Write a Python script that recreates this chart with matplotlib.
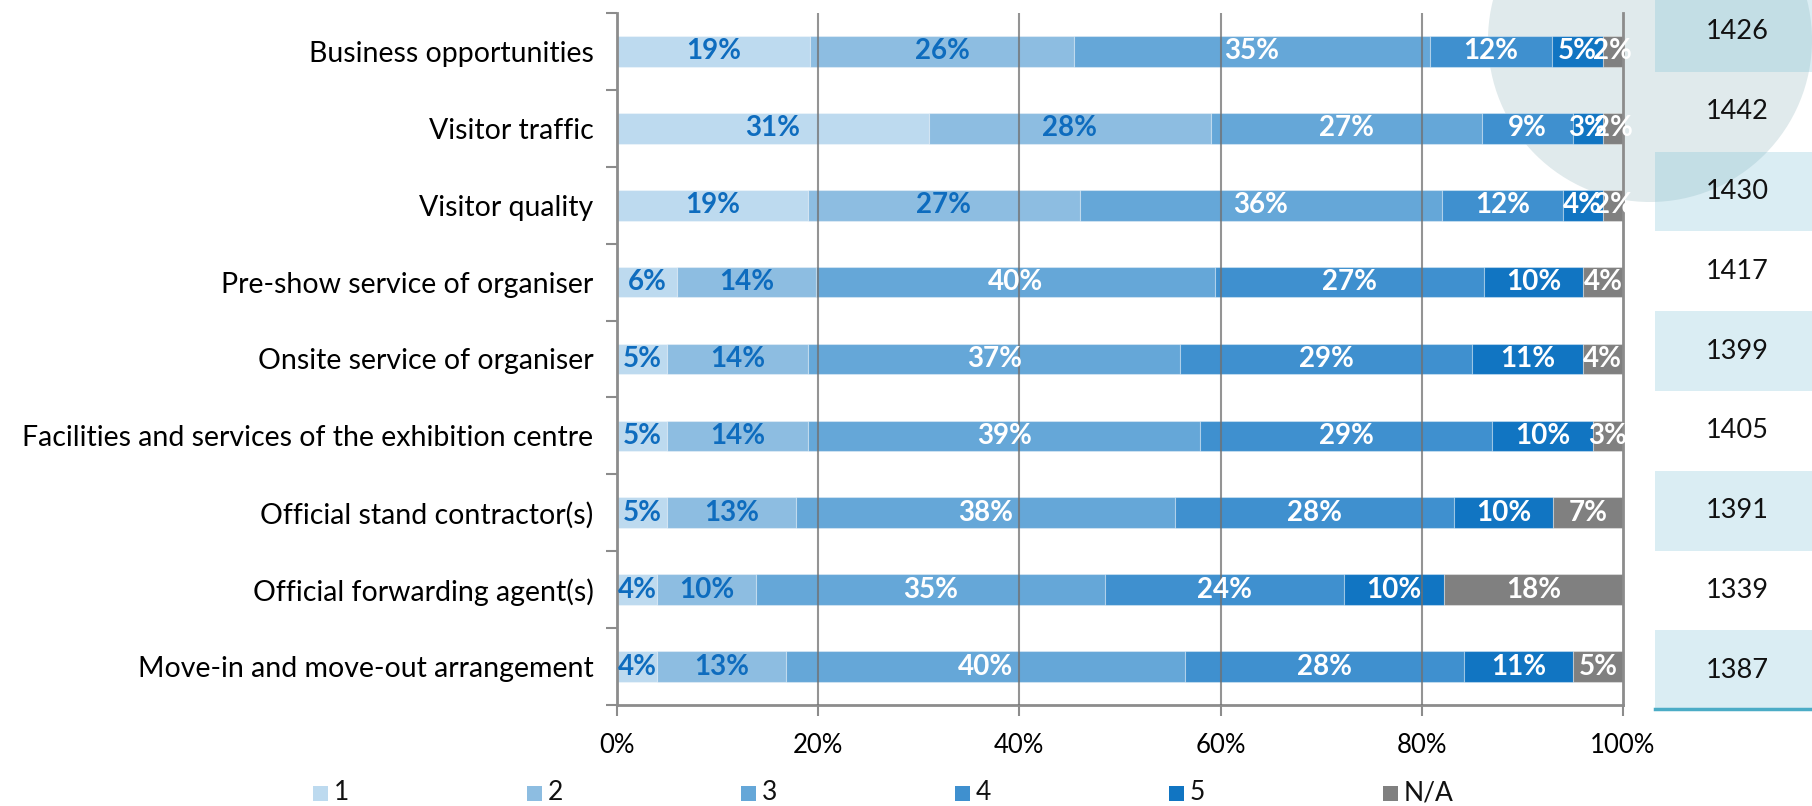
import matplotlib
matplotlib.use("Agg")
import matplotlib.pyplot as plt
from matplotlib.patches import Rectangle, Ellipse
import numpy as np

plt.rcParams['font.family'] = ['Lato', 'DejaVu Sans']

categories = [
    "Business opportunities",
    "Visitor traffic",
    "Visitor quality",
    "Pre-show service of organiser",
    "Onsite service of organiser",
    "Facilities and services of the exhibition centre",
    "Official stand contractor(s)",
    "Official forwarding agent(s)",
    "Move-in and move-out arrangement",
]
series_names = ["1", "2", "3", "4", "5", "N/A"]
s1 = [19, 31, 19, 6, 5, 5, 5, 4, 4]
s2 = [26, 28, 27, 14, 14, 14, 13, 10, 13]
s3 = [35, 27, 36, 40, 37, 39, 38, 35, 40]
s4 = [12, 9, 12, 27, 29, 29, 28, 24, 28]
s5 = [5, 3, 4, 10, 11, 10, 10, 10, 11]
s_na = [2, 2, 2, 4, 4, 3, 7, 18, 5]
n_responses = [1426, 1442, 1430, 1417, 1399, 1405, 1391, 1339, 1387]
x_ticks = [0, 20, 40, 60, 80, 100]
x_tick_labels = ["0%", "20%", "40%", "60%", "80%", "100%"]

colors = ["#BDDAEF", "#8DBDE1", "#65A7D8", "#3F90CF", "#1175C2", "#808080"]
label_colors = ["#0E6CBE", "#0E6CBE", "white", "white", "white", "white"]

W, H = 1812, 806
fig = plt.figure(figsize=(W / 100, H / 100), dpi=100)

# Decorative background circle
circ = Ellipse((1650 / W, 1 - 40 / H), width=2 * 162 / W, height=2 * 162 / H,
               transform=fig.transFigure, facecolor="#E0EAEC",
               edgecolor="none", zorder=0.05)
fig.patches.append(circ)

ax = fig.add_axes([617 / W, 101 / H, 1006 / W, 692 / H])
ax.set_zorder(2)
ax.patch.set_visible(False)

n = len(categories)
y = np.arange(n)
data = np.array([s1, s2, s3, s4, s5, s_na], dtype=float)
totals = data.sum(axis=0)
shares = data / totals * 100

left = np.zeros(n)
for k in range(len(series_names)):
    ax.barh(y, shares[k], left=left, height=0.40, color=colors[k],
            edgecolor=(1, 1, 1, 0.35), linewidth=0.8, label=series_names[k], zorder=2)
    for i in range(n):
        ax.text(left[i] + shares[k][i] / 2, y[i], f"{int(data[k][i])}%",
                ha="center", va="center", fontsize=20, fontweight="bold",
                color=label_colors[k], zorder=4, clip_on=False)
    left += shares[k]

ax.set_xlim(0, 100)
ax.set_ylim(n - 0.5, -0.5)
ax.set_xticks(x_ticks)
ax.set_xticklabels(x_tick_labels, fontsize=18.5)
ax.tick_params(axis="x", length=8, width=1.5, color="#8C8C8C", pad=12)
for xv in x_ticks[1:-1]:
    ax.axvline(xv, color="#707070", lw=1.5, alpha=0.75, zorder=3)

ax.set_yticks(np.arange(-0.5, n, 1.0))
ax.set_yticklabels([])
ax.tick_params(axis="y", which="major", length=8, width=1.5, color="#8C8C8C")
ax.set_yticks(y, minor=True)
ax.set_yticklabels(categories, minor=True, fontsize=20.5)
ax.tick_params(axis="y", which="minor", length=0, pad=17)

ax.spines["top"].set_visible(False)
for side in ["left", "right", "bottom"]:
    ax.spines[side].set_color("#8C8C8C")
    ax.spines[side].set_linewidth(2)

# Right table of response counts (semi-transparent boxes over the circle)
row_h = 79.8
top0 = -8
for i, v in enumerate(n_responses):
    y0 = top0 + i * row_h
    if i % 2 == 0:
        fig.patches.append(Rectangle((1655 / W, 1 - (y0 + row_h) / H), (W - 1655) / W, row_h / H,
                                     transform=fig.transFigure, facecolor=(123/255, 191/255, 212/255),
                                     alpha=0.28, edgecolor="none", zorder=0.1))
    fig.text(1737 / W, 1 - (y0 + row_h / 2) / H, str(v), ha="center", va="center",
             fontsize=19.5, color="#111111")
fig.add_artist(plt.Line2D([1655 / W, 1], [1 - 709 / H, 1 - 709 / H], transform=fig.transFigure,
                          color="#4BACC6", lw=2.5))

# Legend
leg_y = 1 - 793 / H
for k, name in enumerate(series_names):
    x0 = 321 + k * 214
    fig.patches.append(Rectangle(((x0 - 8) / W, leg_y - 7.5 / H), 15 / W, 15 / H,
                                 transform=fig.transFigure, facecolor=colors[k],
                                 edgecolor="none"))
    fig.text((x0 + 13) / W, leg_y, name, ha="left", va="center", fontsize=19, color="#111111")

fig.savefig("out.png", dpi=100, facecolor="white")
